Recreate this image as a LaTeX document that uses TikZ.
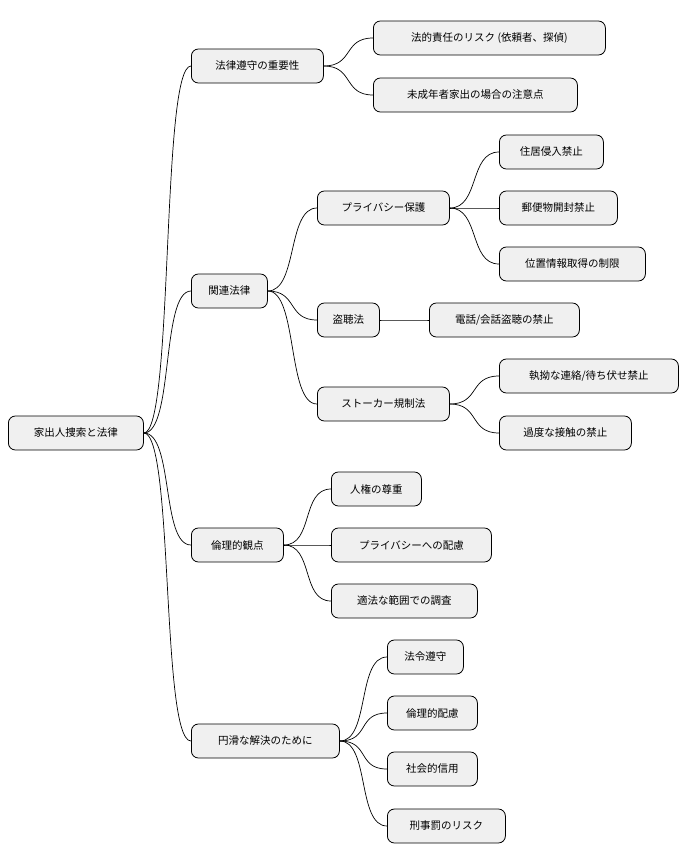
\documentclass[tikz,border=0pt]{standalone}
\usepackage{fontspec}
\setmainfont{Noto Sans CJK JP}
\begin{document}
\begin{tikzpicture}[x=1pt,y=-1pt,
  mm/.style={draw=black,line width=0.8pt,fill=gray!12,rounded corners=7pt,minimum height=34pt,inner sep=0pt,font=\fontsize{10.5pt}{12pt}\selectfont,anchor=west},
  ln/.style={line width=0.7pt}]
\useasboundingbox (0,0) rectangle (689,865);
\newcommand{\mnode}[5]{\node[mm,minimum width=#4-#3] (#1) at (#3,#5) {#2};}
\mnode{r}{家出人捜索と法律}{8}{143}{433}
\mnode{a}{法律遵守の重要性}{191}{323}{66}
\mnode{a1}{法的責任のリスク (依頼者、探偵)}{373}{605}{38}
\mnode{a2}{未成年者家出の場合の注意点}{373}{577}{95}
\mnode{b}{関連法律}{191}{267}{291}
\mnode{b1}{プライバシー保護}{317}{449}{208}
\mnode{b11}{住居侵入禁止}{499}{603}{152}
\mnode{b12}{郵便物開封禁止}{499}{617}{208}
\mnode{b13}{位置情報取得の制限}{499}{645}{264}
\mnode{b2}{盗聴法}{317}{379}{320}
\mnode{b21}{電話/会話盗聴の禁止}{429}{579}{320}
\mnode{b3}{ストーカー規制法}{317}{449}{404}
\mnode{b31}{執拗な連絡/待ち伏せ禁止}{499}{678}{376}
\mnode{b32}{過度な接触の禁止}{499}{631}{433}
\mnode{c}{倫理的観点}{191}{283}{545}
\mnode{c1}{人権の尊重}{331}{421}{489}
\mnode{c2}{プライバシーへの配慮}{331}{491}{545}
\mnode{c3}{適法な範囲での調査}{331}{477}{601}
\mnode{d}{円滑な解決のために}{191}{339}{741}
\mnode{d1}{法令遵守}{387}{463}{657}
\mnode{d2}{倫理的配慮}{387}{477}{713}
\mnode{d3}{社会的信用}{387}{477}{769}
\mnode{d4}{刑事罰のリスク}{387}{505}{826}
\foreach \p/\c in {r/a,r/b,r/c,r/d,a/a1,a/a2,b/b1,b/b2,b/b3,b1/b11,b1/b12,b1/b13,b2/b21,b3/b31,b3/b32,c/c1,c/c2,c/c3,d/d1,d/d2,d/d3,d/d4}
  \draw[ln] (\p.east) .. controls ([xshift=30pt]\p.east) and ([xshift=-30pt]\c.west) .. (\c.west);
\end{tikzpicture}
\end{document}
